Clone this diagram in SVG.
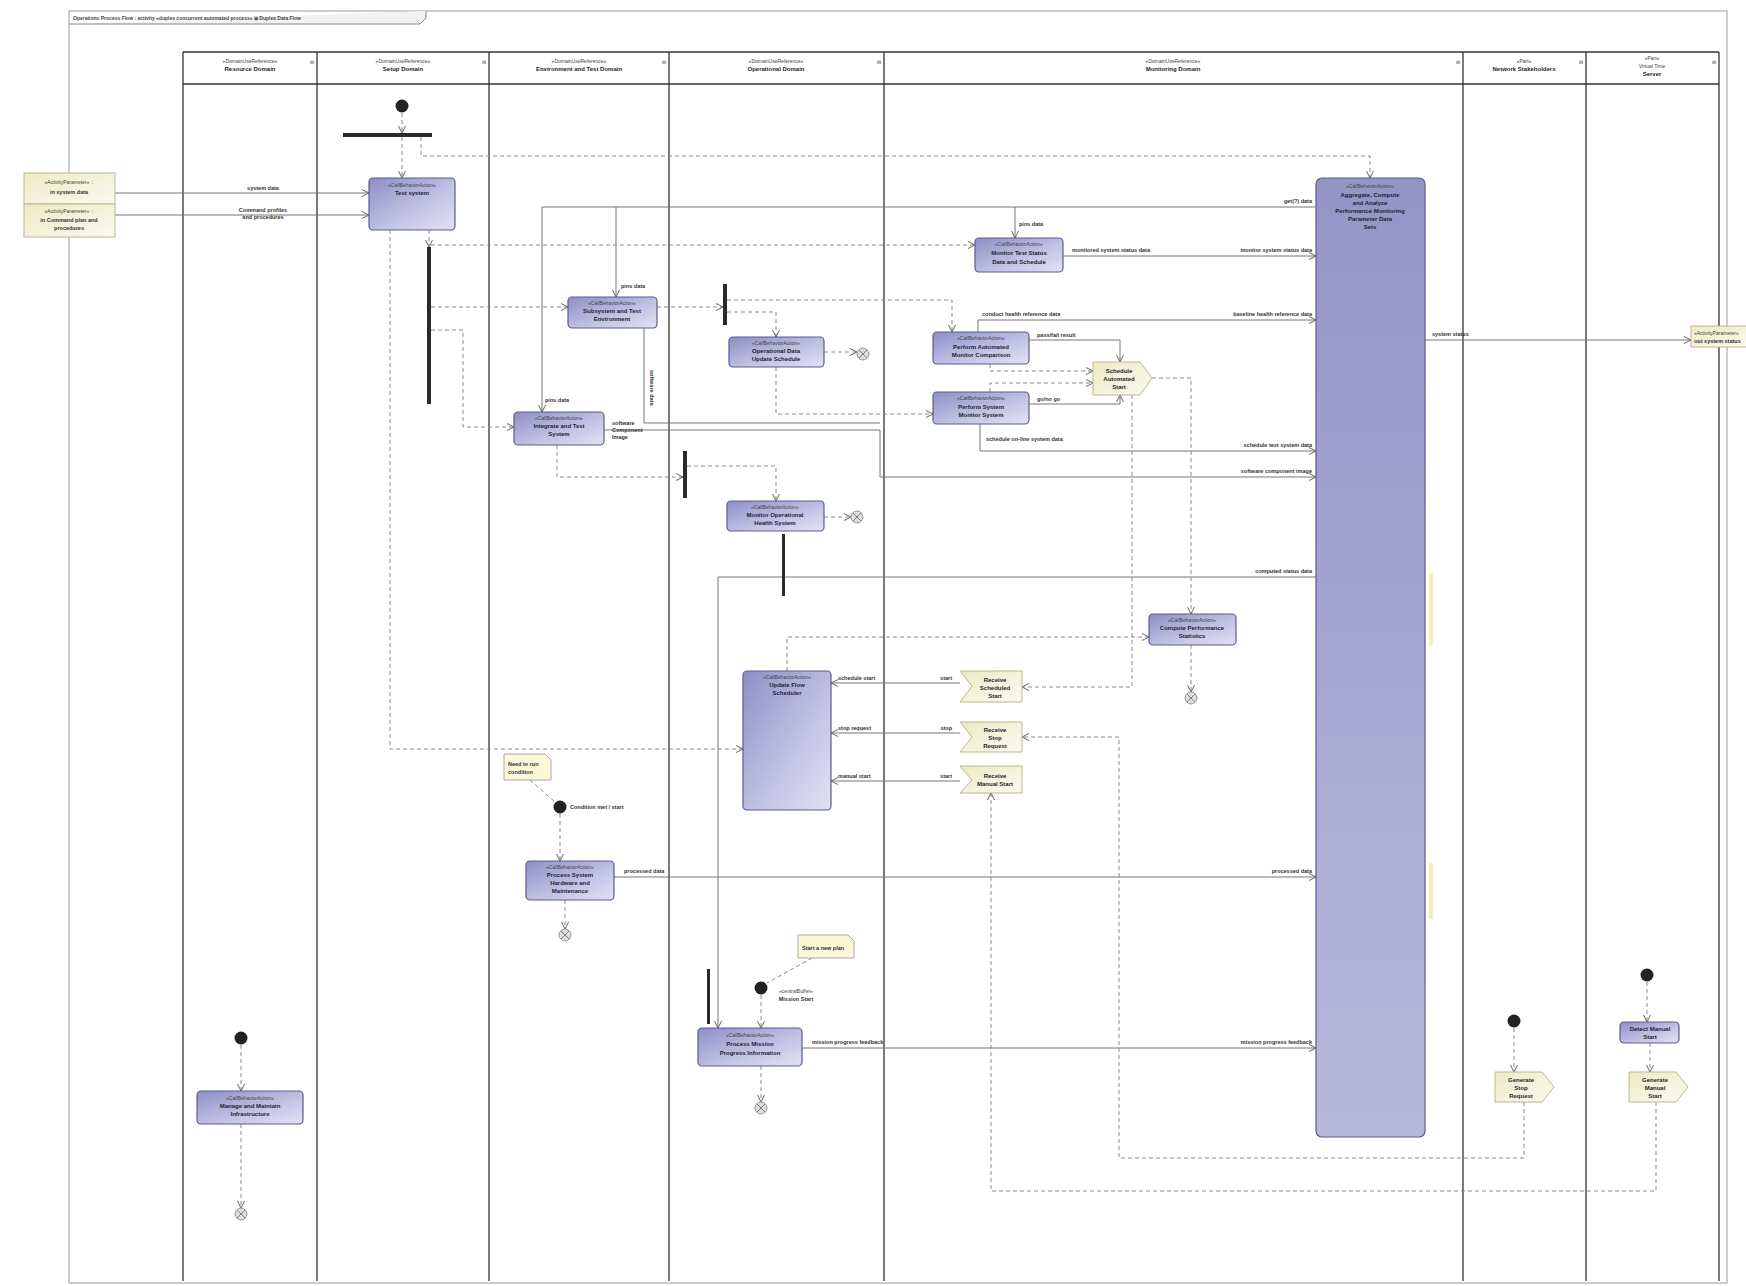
<svg xmlns="http://www.w3.org/2000/svg" width="1746" height="1286" viewBox="0 0 1746 1286">
<defs>
<linearGradient id="ga" x1="0" y1="0" x2="1" y2="1"><stop offset="0" stop-color="#8e8ec6"/><stop offset="0.6" stop-color="#c4c4e6"/><stop offset="1" stop-color="#e2e2f2"/></linearGradient>
<linearGradient id="gb" x1="0" y1="0" x2="0" y2="1"><stop offset="0" stop-color="#9494c6"/><stop offset="1" stop-color="#b8b8dc"/></linearGradient>
<linearGradient id="gy" x1="0" y1="0" x2="1" y2="1"><stop offset="0" stop-color="#ecebc4"/><stop offset="1" stop-color="#fbfaf0"/></linearGradient>
<marker id="ar" markerWidth="8" markerHeight="8" refX="7" refY="4" orient="auto" markerUnits="userSpaceOnUse"><path d="M0,0.5 L7,4 L0,7.5" fill="none" stroke="#666" stroke-width="1"/></marker>
</defs>
<style>
.fr{fill:none;stroke:#999;stroke-width:1}
.ln{stroke:#333;stroke-width:1.3;fill:none}
.act{fill:url(#ga);stroke:#5c5c8c;stroke-width:1.2}
.obj{fill:url(#gy);stroke:#bcb68c;stroke-width:1}
.f{fill:none;stroke:#777;stroke-width:1;marker-end:url(#ar)}
.fn{fill:none;stroke:#777;stroke-width:1}
.c{fill:none;stroke:#8a8a8a;stroke-width:1;stroke-dasharray:4 3;marker-end:url(#ar)}
.cn{fill:none;stroke:#8a8a8a;stroke-width:1;stroke-dasharray:4 3}
.bar{fill:#2a2a2a}
.ini{fill:#222}
.fin{fill:#ddd;stroke:#999;stroke-width:1}
text{font-family:"Liberation Sans",Arial,sans-serif;font-size:6px;fill:#1e1e2e}
.b{font-weight:bold}
.s{font-size:5px;fill:#444}
.lb{font-size:5.5px;fill:#333;font-weight:bold}
.m{text-anchor:middle}
.e{text-anchor:end}
.ic{fill:none;stroke:#555;stroke-width:0.7}
</style>
<rect x="0" y="0" width="1746" height="1286" fill="#fff"/>
<g id="frame">
<rect class="fr" x="69" y="11" width="1658" height="1272"/>
<path d="M69,24 H420 L426,18 V11" fill="#f2f2f2" stroke="#888"/>
<text x="73" y="20" class="s b">Operations Process Flow : activity «duplex concurrent automated process» ⊞ Duplex Data Flow</text>
</g>
<g id="lanes">
<path class="ln" d="M183,52 H1719 M183,84 H1719 M183,52 V1281 M317,52 V1281 M489,52 V1281 M669,52 V1281 M884,52 V1281 M1463,52 V1281 M1586,52 V1281 M1719,52 V1281"/>
<text x="250" y="63" class="s m">«DomainUseReference»</text><text x="250" y="71" class="b m">Resource Domain</text>
<text x="403" y="63" class="s m">«DomainUseReference»</text><text x="403" y="71" class="b m">Setup Domain</text>
<text x="579" y="63" class="s m">«DomainUseReference»</text><text x="579" y="71" class="b m">Environment and Test Domain</text>
<text x="776" y="63" class="s m">«DomainUseReference»</text><text x="776" y="71" class="b m">Operational Domain</text>
<text x="1173" y="63" class="s m">«DomainUseReference»</text><text x="1173" y="71" class="b m">Monitoring Domain</text>
<text x="1524" y="63" class="s m">«Part»</text><text x="1524" y="71" class="b m">Network Stakeholders</text>
<text x="1652" y="60" class="s m">«Part»</text><text x="1652" y="68" class="s m">Virtual Time</text><text x="1652" y="76" class="b m">Server</text>
<text x="310" y="64" class="s">⊟</text><text x="482" y="64" class="s">⊟</text><text x="662" y="64" class="s">⊟</text><text x="877" y="64" class="s">⊟</text><text x="1456" y="64" class="s">⊟</text><text x="1579" y="64" class="s">⊟</text><text x="1712" y="64" class="s">⊟</text>
</g>
<g id="connectors">
<path class="f" d="M115,193 H369"/><text x="263" y="190" class="lb m">system data</text>
<path class="f" d="M115,215 H369"/><text x="263" y="212" class="lb m">Command profiles</text><text x="263" y="219" class="lb m">and procedures</text>
<path class="f" d="M1316,207 H542 V412"/><path class="f" d="M616,207 V297"/><path class="f" d="M1015,207 V238"/>
<text x="1312" y="203" class="lb e">get(?) data</text><text x="621" y="288" class="lb">pins data</text><text x="545" y="402" class="lb">pins data</text><text x="1019" y="226" class="lb">pins data</text>
<path class="f" d="M1063,256 H1316"/><text x="1072" y="252" class="lb">monitored system status data</text><text x="1312" y="252" class="lb e">monitor system status data</text>
<path class="f" d="M978,332 V320 H1316"/><text x="982" y="316" class="lb">conduct health reference data</text><text x="1312" y="316" class="lb e">baseline health reference data</text>
<path class="f" d="M1029,340 H1120 V362"/><text x="1037" y="337" class="lb">pass/fail result</text>
<path class="f" d="M1029,404 H1120 V395"/><text x="1037" y="401" class="lb">go/no go</text>
<path class="f" d="M980,424 V451 H1316"/><text x="986" y="441" class="lb">schedule on-line system data</text><text x="1312" y="447" class="lb e">schedule test system data</text>
<path class="f" d="M604,430 H880 V477 H1316"/><path class="fn" d="M644,328 V423 H880"/>
<text x="612" y="425" class="lb">software</text><text x="612" y="432" class="lb">Component</text><text x="612" y="439" class="lb">Image</text>
<text x="1312" y="473" class="lb e">software component image</text>
<text x="650" y="370" class="lb" transform="rotate(90 650 370)">software data</text>
<path class="f" d="M1316,577 H718 V1028"/><text x="1312" y="573" class="lb e">computed status data</text>
<path class="f" d="M614,877 H1316"/><text x="624" y="873" class="lb">processed data</text><text x="1312" y="873" class="lb e">processed data</text>
<path class="f" d="M802,1048 H1316"/><text x="812" y="1044" class="lb">mission progress feedback</text><text x="1312" y="1044" class="lb e">mission progress feedback</text>
<path class="f" d="M1425,340 H1691"/><text x="1432" y="336" class="lb">system status</text>
<path class="f" d="M960,683 H831"/><text x="838" y="680" class="lb">schedule start</text><text x="952" y="680" class="lb e">start</text>
<path class="f" d="M960,733 H831"/><text x="838" y="730" class="lb">stop request</text><text x="952" y="730" class="lb e">stop</text>
<path class="f" d="M960,781 H831"/><text x="838" y="778" class="lb">manual start</text><text x="952" y="778" class="lb e">start</text>
<path class="c" d="M402,113 V133"/>
<path class="c" d="M402,137 V178"/>
<path class="c" d="M421,137 V156 H1370 V178"/>
<path class="c" d="M390,230 V749 H743"/>
<path class="c" d="M429,230 V247"/>
<path class="c" d="M431,245 H975"/>
<path class="c" d="M431,307 H568"/>
<path class="c" d="M431,330 H463 V427 H514"/>
<path class="c" d="M657,307 H723"/>
<path class="c" d="M727,300 H952 V332"/>
<path class="c" d="M727,312 H776 V337"/>
<path class="c" d="M824,352 H857"/>
<path class="c" d="M557,445 V477 H683"/>
<path class="c" d="M687,466 H776 V501"/>
<path class="c" d="M776,367 V414 H933"/>
<path class="c" d="M824,517 H851"/>
<path class="c" d="M990,364 V371 H1093"/>
<path class="c" d="M990,392 V383 H1093"/>
<path class="c" d="M1132,395 V687 H1022"/>
<path class="c" d="M787,671 V637 H1149"/>
<path class="c" d="M1152,378 H1191 V614"/>
<path class="c" d="M1191,645 V692"/>
<path class="c" d="M1524,1102 V1158 H1119 V737 H1022"/>
<path class="c" d="M1656,1102 V1191 H991 V793"/>
<path class="c" d="M1514,1028 V1072"/>
<path class="c" d="M1647,982 V1022"/>
<path class="c" d="M1650,1043 V1072"/>
<path class="c" d="M241,1045 V1091"/>
<path class="c" d="M241,1124 V1208"/>
<path class="cn" d="M530,780 L555,802"/>
<path class="c" d="M560,814 V861"/>
<path class="c" d="M565,900 V929"/>
<path class="cn" d="M812,958 L767,983"/>
<path class="c" d="M761,995 V1028"/>
<path class="c" d="M761,1066 V1102"/>
</g>
<g id="bars">
<rect class="bar" x="343" y="133" width="89" height="4"/>
<rect class="bar" x="427" y="247" width="4" height="157"/>
<rect class="bar" x="723" y="284" width="4" height="41"/>
<rect class="bar" x="683" y="451" width="4" height="47"/>
<rect class="bar" x="782" y="534" width="3" height="62"/>
<rect class="bar" x="707" y="969" width="3" height="55"/>
</g>
<g id="start-nodes">
<circle class="ini" cx="402" cy="106" r="6.5"/>
<circle class="ini" cx="560" cy="807" r="6.5"/><text x="570" y="809" class="lb">Condition met / start</text>
<circle class="ini" cx="761" cy="988" r="6.5"/><text x="796" y="993" class="s m">«centralBuffer»</text><text x="796" y="1001" class="lb m">Mission Start</text>
<circle class="ini" cx="241" cy="1038" r="6.5"/>
<circle class="ini" cx="1514" cy="1021" r="6.5"/>
<circle class="ini" cx="1647" cy="975" r="6.5"/>
</g>
<g id="final-nodes">
<g><circle class="fin" cx="863" cy="354" r="6"/><path class="ic" d="M859,350 L867,358 M867,350 L859,358"/></g>
<g><circle class="fin" cx="857" cy="517" r="6"/><path class="ic" d="M853,513 L861,521 M861,513 L853,521"/></g>
<g><circle class="fin" cx="565" cy="935" r="6"/><path class="ic" d="M561,931 L569,939 M569,931 L561,939"/></g>
<g><circle class="fin" cx="761" cy="1108" r="6"/><path class="ic" d="M757,1104 L765,1112 M765,1104 L757,1112"/></g>
<g><circle class="fin" cx="241" cy="1214" r="6"/><path class="ic" d="M237,1210 L245,1218 M245,1210 L237,1218"/></g>
<g><circle class="fin" cx="1191" cy="698" r="6"/><path class="ic" d="M1187,694 L1195,702 M1195,694 L1187,702"/></g>
</g>
<g id="param-in1"><rect class="obj" x="24" y="173" width="91" height="31"/><text x="69" y="184" class="s m">«ActivityParameter» ::</text><text x="69" y="194" class="lb m">in system data</text></g>
<g id="param-in2"><rect class="obj" x="24" y="204" width="91" height="33"/><text x="69" y="213" class="s m">«ActivityParameter» ::</text><text x="69" y="222" class="lb m">in Command plan and</text><text x="69" y="230" class="lb m">procedures</text></g>
<g id="param-out"><rect class="obj" x="1691" y="326" width="60" height="21"/><text x="1694" y="335" class="s">«ActivityParameter»</text><text x="1694" y="343" class="lb">out system status</text></g>
<g id="a-test"><rect class="act" x="369" y="178" width="86" height="52" rx="4"/><text x="412" y="187" class="s m">«CallBehaviorAction»</text><text x="412" y="195" class="b m">Test system</text></g>
<g id="a-subsys"><rect class="act" x="568" y="297" width="89" height="31" rx="4"/><text x="612" y="305" class="s m">«CallBehaviorAction»</text><text x="612" y="313" class="b m">Subsystem and Test</text><text x="612" y="321" class="b m">Environment</text></g>
<g id="a-integrate"><rect class="act" x="514" y="412" width="90" height="33" rx="4"/><text x="559" y="420" class="s m">«CallBehaviorAction»</text><text x="559" y="428" class="b m">Integrate and Test</text><text x="559" y="436" class="b m">System</text></g>
<g id="a-opdata"><rect class="act" x="729" y="337" width="95" height="30" rx="4"/><text x="776" y="345" class="s m">«CallBehaviorAction»</text><text x="776" y="353" class="b m">Operational Data</text><text x="776" y="361" class="b m">Update Schedule</text></g>
<g id="a-ophealth"><rect class="act" x="727" y="501" width="97" height="30" rx="4"/><text x="775" y="509" class="s m">«CallBehaviorAction»</text><text x="775" y="517" class="b m">Monitor Operational</text><text x="775" y="525" class="b m">Health System</text></g>
<g id="a-flowsched"><rect class="act" x="743" y="671" width="88" height="139" rx="4"/><text x="787" y="679" class="s m">«CallBehaviorAction»</text><text x="787" y="687" class="b m">Update Flow</text><text x="787" y="695" class="b m">Scheduler</text></g>
<g id="a-mission"><rect class="act" x="698" y="1028" width="104" height="38" rx="4"/><text x="750" y="1037" class="s m">«CallBehaviorAction»</text><text x="750" y="1046" class="b m">Process Mission</text><text x="750" y="1055" class="b m">Progress Information</text></g>
<g id="a-hardware"><rect class="act" x="526" y="861" width="88" height="39" rx="4"/><text x="570" y="869" class="s m">«CallBehaviorAction»</text><text x="570" y="877" class="b m">Process System</text><text x="570" y="885" class="b m">Hardware and</text><text x="570" y="893" class="b m">Maintenance</text></g>
<g id="a-resources"><rect class="act" x="197" y="1091" width="106" height="33" rx="4"/><text x="250" y="1100" class="s m">«CallBehaviorAction»</text><text x="250" y="1108" class="b m">Manage and Maintain</text><text x="250" y="1116" class="b m">Infrastructure</text></g>
<g id="a-monitor"><rect class="act" x="975" y="238" width="88" height="34" rx="4"/><text x="1019" y="246" class="s m">«CallBehaviorAction»</text><text x="1019" y="255" class="b m">Monitor Test Status</text><text x="1019" y="264" class="b m">Data and Schedule</text></g>
<g id="a-autocomp"><rect class="act" x="933" y="332" width="96" height="32" rx="4"/><text x="981" y="340" class="s m">«CallBehaviorAction»</text><text x="981" y="349" class="b m">Perform Automated</text><text x="981" y="357" class="b m">Monitor Comparison</text></g>
<g id="a-sysmon"><rect class="act" x="933" y="392" width="96" height="32" rx="4"/><text x="981" y="400" class="s m">«CallBehaviorAction»</text><text x="981" y="409" class="b m">Perform System</text><text x="981" y="417" class="b m">Monitor System</text></g>
<g id="a-stats"><rect class="act" x="1149" y="614" width="87" height="31" rx="4"/><text x="1192" y="622" class="s m">«CallBehaviorAction»</text><text x="1192" y="630" class="b m">Compute Performance</text><text x="1192" y="638" class="b m">Statistics</text></g>
<g id="a-aggregate"><rect x="1316" y="178" width="109" height="959" rx="6" fill="url(#gb)" stroke="#5c5c8c" stroke-width="1.2"/><text x="1370" y="188" class="s m">«CallBehaviorAction»</text><text x="1370" y="197" class="b m">Aggregate, Compute</text><text x="1370" y="205" class="b m">and Analyze</text><text x="1370" y="213" class="b m">Performance Monitoring</text><text x="1370" y="221" class="b m">Parameter Data</text><text x="1370" y="229" class="b m">Sets</text>
<rect x="1429" y="573" width="4" height="73" fill="#f3eec0"/><rect x="1429" y="863" width="4" height="56" fill="#f3eec0"/></g>
<g id="a-manual"><rect class="act" x="1620" y="1022" width="59" height="21" rx="4"/><text x="1650" y="1031" class="b m">Detect Manual</text><text x="1650" y="1039" class="b m">Start</text></g>
<g id="s-schedule"><path class="obj" d="M1093,362 H1140 L1152,378 L1140,395 H1093 Z"/><text x="1119" y="373" class="b m">Schedule</text><text x="1119" y="381" class="b m">Automated</text><text x="1119" y="389" class="b m">Start</text></g>
<g id="r-scheduled"><path class="obj" d="M960,671 H1022 V702 H960 L972,686 Z"/><text x="995" y="682" class="b m">Receive</text><text x="995" y="690" class="b m">Scheduled</text><text x="995" y="698" class="b m">Start</text></g>
<g id="r-stop"><path class="obj" d="M960,722 H1022 V752 H960 L972,737 Z"/><text x="995" y="732" class="b m">Receive</text><text x="995" y="740" class="b m">Stop</text><text x="995" y="748" class="b m">Request</text></g>
<g id="r-manual"><path class="obj" d="M960,766 H1022 V793 H960 L972,780 Z"/><text x="995" y="778" class="b m">Receive</text><text x="995" y="786" class="b m">Manual Start</text></g>
<g id="t-stop"><path class="obj" d="M1495,1072 H1542 L1554,1087 L1542,1102 H1495 Z"/><text x="1521" y="1082" class="b m">Generate</text><text x="1521" y="1090" class="b m">Stop</text><text x="1521" y="1098" class="b m">Request</text></g>
<g id="t-manual"><path class="obj" d="M1629,1072 H1676 L1688,1087 L1676,1102 H1629 Z"/><text x="1655" y="1082" class="b m">Generate</text><text x="1655" y="1090" class="b m">Manual</text><text x="1655" y="1098" class="b m">Start</text></g>
<g id="n-condition"><path d="M504,754 H545 L551,760 V780 H504 Z" fill="#fbf8d8" stroke="#aaa"/><text x="508" y="766" class="lb">Need to run</text><text x="508" y="774" class="lb">condition</text></g>
<g id="n-plan"><path d="M798,935 H848 L854,941 V958 H798 Z" fill="#fbf8d8" stroke="#aaa"/><text x="802" y="950" class="lb">Start a new plan</text></g>
</svg>
